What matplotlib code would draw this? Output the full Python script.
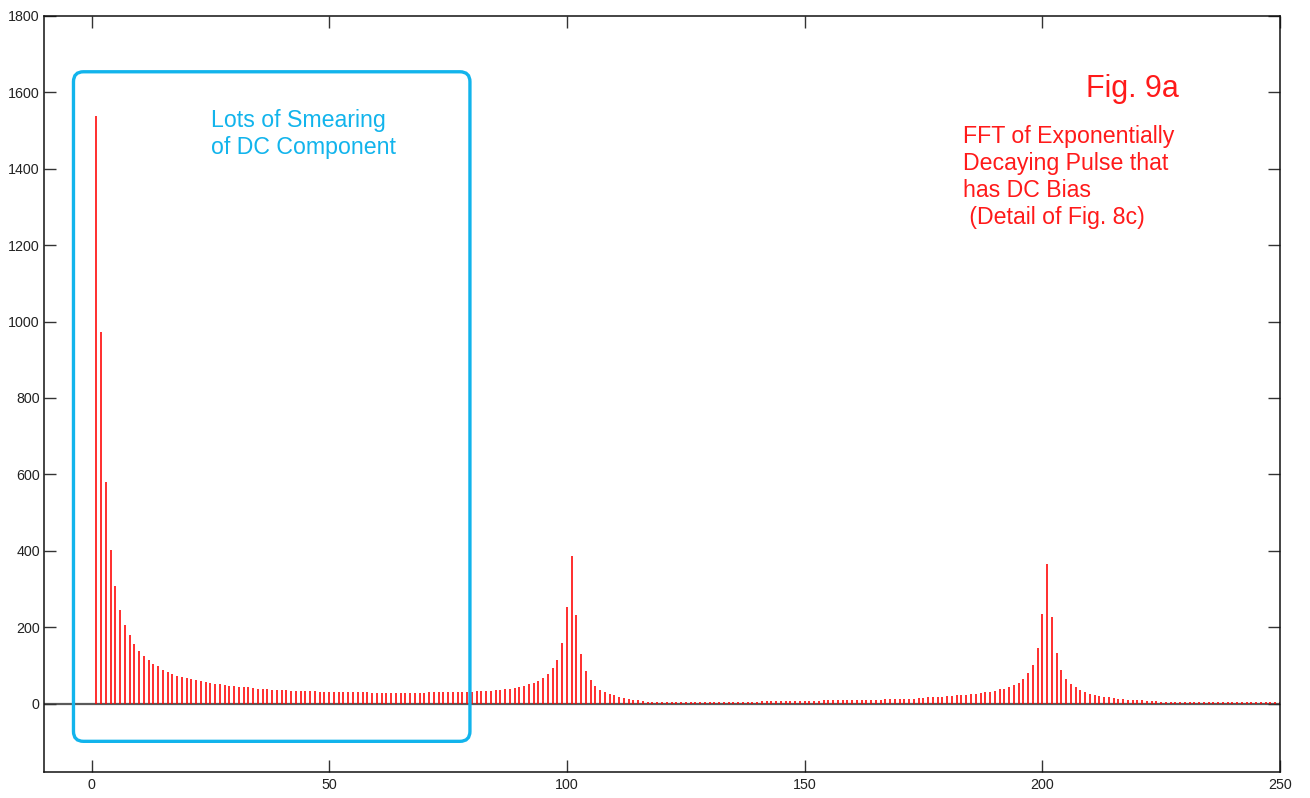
import numpy as np
import matplotlib
matplotlib.use("Agg")
import matplotlib.pyplot as plt
from matplotlib.patches import FancyBboxPatch

# FFT magnitude per frequency bin (bins 1..250)
bins = np.arange(1, 251)
magnitude = [
    1538, 973, 580, 401, 307, 246, 205, 179, 155, 138,
    124, 113, 103, 98, 87, 82, 78, 73, 70, 68,
    64, 61, 58, 56, 53, 51, 50, 48, 47, 45,
    44, 42, 42, 41, 39, 38, 38, 36, 36, 36,
    35, 34, 33, 33, 33, 33, 32, 31, 31, 31,
    31, 30, 30, 30, 30, 30, 29, 29, 28, 28,
    28, 28, 28, 28, 28, 28, 28, 28, 28, 28,
    29, 29, 30, 30, 30, 30, 31, 31, 31, 31,
    33, 33, 33, 34, 35, 36, 38, 39, 41, 44,
    46, 51, 55, 59, 66, 78, 92, 114, 159, 253,
    385, 232, 130, 85, 62, 47, 36, 30, 24, 21,
    16, 14, 11, 9, 8, 6, 5, 4, 4, 4,
    3, 3, 3, 3, 3, 3, 3, 3, 3, 3,
    4, 4, 4, 5, 5, 5, 5, 5, 5, 5,
    6, 6, 6, 6, 6, 6, 6, 7, 7, 7,
    7, 7, 7, 8, 8, 8, 8, 8, 9, 9,
    9, 9, 10, 10, 10, 10, 11, 11, 11, 12,
    12, 13, 13, 14, 15, 16, 17, 18, 18, 19,
    20, 21, 22, 23, 25, 26, 28, 29, 30, 33,
    37, 39, 43, 48, 54, 65, 80, 101, 145, 235,
    365, 227, 133, 89, 65, 51, 42, 36, 30, 24,
    22, 19, 18, 16, 14, 13, 12, 10, 10, 9,
    8, 7, 6, 6, 5, 4, 4, 4, 4, 3,
    3, 3, 3, 3, 3, 3, 3, 3, 3, 3,
    3, 3, 3, 3, 3, 3, 3, 3, 3, 3,
]

x_ticks = [0, 50, 100, 150, 200, 250]
y_ticks = [0, 200, 400, 600, 800, 1000, 1200, 1400, 1600, 1800]

# highlighted region around the DC smearing (data units)
box_x = (-3.8, 79.6)
box_y = (-99, 1654)

plt.rcParams["font.family"] = ["Liberation Sans", "DejaVu Sans"]

W, H = 1310, 798
fig = plt.figure(figsize=(W / 100, H / 100), dpi=100)
fig.patch.set_facecolor("white")
ax = fig.add_axes([44 / W, 1 - 771.5 / H, (1280 - 44) / W, (771.5 - 16) / H])

ax.set_xlim(-10, 250)
ax.set_ylim(-178, 1800)

# zero line and stems
ax.axhline(0, color="#5a5a5a", lw=1.6, zorder=1)
ax.vlines(bins, 0, magnitude, colors="#ff0000", lw=1.15, zorder=2)

ax.set_xticks(x_ticks)
ax.set_yticks(y_ticks)
ax.tick_params(axis="both", direction="in", length=8.6, width=1.0,
               color="#333333", labelsize=10.3, labelcolor="#222222",
               top=True, right=True)
ax.tick_params(axis="x", pad=5)
ax.tick_params(axis="y", pad=3)
for s in ax.spines.values():
    s.set_color("#111111")
    s.set_linewidth(1.1)

# rounded box around the low-frequency region
xr = ax.get_xlim()
yr = ax.get_ylim()
px_per_x = (1280 - 44) / (xr[1] - xr[0])
px_per_y = (771.5 - 16) / (yr[1] - yr[0])
aspect = px_per_x / px_per_y
rad_px = 10
box = FancyBboxPatch((box_x[0], box_y[0]), box_x[1] - box_x[0], box_y[1] - box_y[0],
                     boxstyle=f"round,pad=0,rounding_size={rad_px / px_per_x}",
                     mutation_aspect=aspect, fill=False, ec="#12b4ec", lw=2.4,
                     zorder=3)
ax.add_patch(box)

fig.text(211 / W, 1 - 109 / H, "Lots of Smearing\nof DC Component",
         color="#12b4ec", fontsize=16.7, ha="left", va="top", linespacing=1.2)
fig.text(1086 / W, 1 - 74 / H, "Fig. 9a", color="#ff1a1a", fontsize=22,
         ha="left", va="top")
fig.text(963 / W, 1 - 125 / H,
         "FFT of Exponentially\nDecaying Pulse that\nhas DC Bias\n (Detail of Fig. 8c)",
         color="#ff1a1a", fontsize=16.7, ha="left", va="top", linespacing=1.22)

fig.savefig("out.png", dpi=100, facecolor="white")
